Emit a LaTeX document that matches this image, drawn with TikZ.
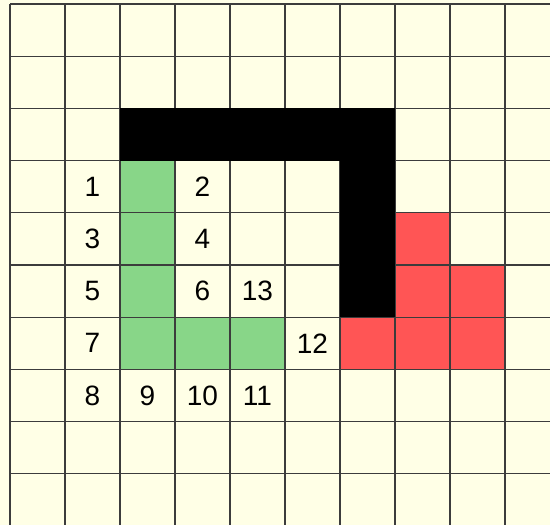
\documentclass[tikz,border=0pt]{standalone}
\usepackage{fontspec}
\setmainfont{Liberation Sans}
\definecolor{cream}{HTML}{FFFFE6}
\definecolor{cellgreen}{HTML}{88D688}
\definecolor{cellred}{HTML}{FF5555}
\definecolor{gridgray}{HTML}{3C3C3C}
\tikzset{
  gridline/.style={draw=gridgray, line width=1.3pt},
  lbl/.style={inner sep=0pt, font=\fontsize{28}{32}\selectfont, text=black},
}
\begin{document}
\begin{tikzpicture}[x=1pt,y=-1pt]
\useasboundingbox (0,0) rectangle (550,525);
\fill[cream] (0,0) rectangle (550,525);
% green cells
\foreach \c/\r in {2/3,2/4,2/5,2/6,3/6,4/6}
  \fill[cellgreen] ({10+55*\c},{4+52.2*\r}) rectangle +(55,52.2);
% red cells
\foreach \c/\r in {7/4,7/5,8/5,6/6,7/6,8/6}
  \fill[cellred] ({10+55*\c},{4+52.2*\r}) rectangle +(55,52.2);
% grid
\foreach \i in {0,...,9}
  \draw[gridline] ({10+55*\i},4) -- ({10+55*\i},525);
\foreach \j in {0,...,10}
  \draw[gridline] (10,{4+52.2*\j}) -- (550,{4+52.2*\j});
% black wall
\fill[black] (120,{4+52.2*2}) rectangle (395,{4+52.2*3});
\fill[black] (340,{4+52.2*2}) rectangle (395,{4+52.2*6});
% labels
\foreach \n/\c/\r in {1/1/3,2/3/3,3/1/4,4/3/4,5/1/5,6/3/5,13/4/5,7/1/6,12/5/6,8/1/7,9/2/7,10/3/7,11/4/7}
  \node[lbl] (n\n) at ({10+55*(\c+0.5)},{4+52.2*(\r+0.5)}) {\n};
\end{tikzpicture}
\end{document}
